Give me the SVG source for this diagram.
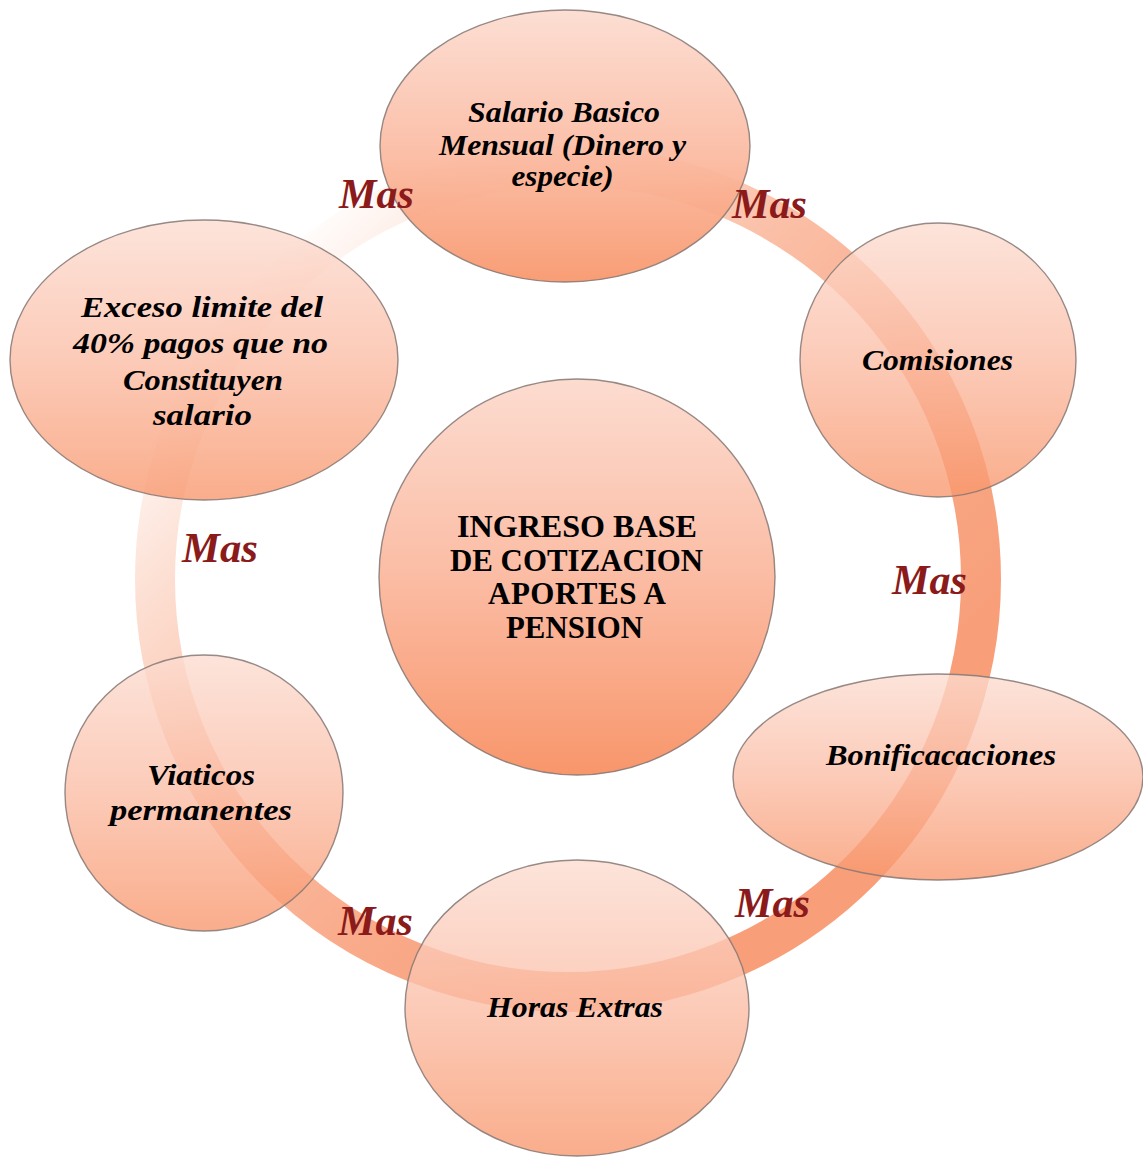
<svg xmlns="http://www.w3.org/2000/svg" width="1143" height="1157" viewBox="0 0 1143 1157">
  <defs>
    <!-- ring fades out towards the upper left -->
    <linearGradient id="ringGrad" gradientUnits="userSpaceOnUse" x1="270" y1="270" x2="800" y2="800">
      <stop offset="0" stop-color="#f89f7a" stop-opacity="0.03"/>
      <stop offset="0.184" stop-color="#f89f7a" stop-opacity="0.32"/>
      <stop offset="0.434" stop-color="#f89f7a" stop-opacity="0.66"/>
      <stop offset="0.717" stop-color="#f89f7a" stop-opacity="0.88"/>
      <stop offset="1" stop-color="#f89f7a" stop-opacity="1"/>
    </linearGradient>
    <linearGradient id="nodeGrad" x1="0" y1="0" x2="0" y2="1">
      <stop offset="0" stop-color="#fcdcd0"/>
      <stop offset="0.5" stop-color="#fbbca4"/>
      <stop offset="1" stop-color="#f8966b"/>
    </linearGradient>
    <style>
      .node { fill: url(#nodeGrad); stroke: #857773; stroke-width: 1.4; stroke-opacity: 0.85; }
      .sat { fill-opacity: 0.78; }
      .label { font-family: "Liberation Serif", "Times New Roman", serif; font-weight: bold; font-style: italic; font-size: 30px; fill: #000; text-anchor: middle; }
      .hub { font-family: "Liberation Serif", "Times New Roman", serif; font-weight: bold; font-size: 31px; fill: #000; text-anchor: middle; }
      .mas { font-family: "Liberation Serif", "Times New Roman", serif; font-weight: bold; font-style: italic; font-size: 43px; fill: #8b1a1a; text-anchor: middle; }
    </style>
  </defs>

  <rect width="1143" height="1157" fill="#ffffff"/>

  <!-- connectors: the circular ring linking all items -->
  <g id="connectors">
    <circle cx="568" cy="579" r="413" fill="none" stroke="url(#ringGrad)" stroke-width="40"/>
  </g>

  <g id="node-center">
    <circle class="node" cx="577" cy="577" r="198"/>
    <text class="hub" x="577" y="537" textLength="240" lengthAdjust="spacingAndGlyphs">INGRESO BASE</text>
    <text class="hub" x="576.5" y="570.5" textLength="253" lengthAdjust="spacingAndGlyphs">DE COTIZACION</text>
    <text class="hub" x="577" y="604" textLength="178" lengthAdjust="spacing">APORTES  A</text>
    <text class="hub" x="574.5" y="637.5" textLength="137" lengthAdjust="spacingAndGlyphs">PENSION</text>
  </g>

  <g id="node-salario">
    <ellipse class="node" cx="565" cy="146" rx="185" ry="136" fill-opacity="0.93"/>
    <text class="label" x="564" y="122" textLength="192" lengthAdjust="spacingAndGlyphs">Salario Basico</text>
    <text class="label" x="562.5" y="155" textLength="247" lengthAdjust="spacingAndGlyphs">Mensual  (Dinero y</text>
    <text class="label" x="562.5" y="186" textLength="102" lengthAdjust="spacingAndGlyphs">especie)</text>
  </g>

  <g id="node-comisiones">
    <ellipse class="node sat" cx="938" cy="360" rx="138" ry="137"/>
    <text class="label" x="937.5" y="370" textLength="151" lengthAdjust="spacingAndGlyphs">Comisiones</text>
  </g>

  <g id="node-bonificaciones">
    <ellipse class="node sat" cx="938" cy="777" rx="205" ry="103"/>
    <text class="label" x="941" y="765" textLength="230" lengthAdjust="spacingAndGlyphs">Bonificacaciones</text>
  </g>

  <g id="node-horas">
    <ellipse class="node sat" cx="577" cy="1008" rx="172" ry="148"/>
    <text class="label" x="575" y="1017" textLength="176" lengthAdjust="spacingAndGlyphs">Horas Extras</text>
  </g>

  <g id="node-viaticos">
    <ellipse class="node sat" cx="204" cy="793" rx="139" ry="138"/>
    <text class="label" x="201" y="785" textLength="108" lengthAdjust="spacingAndGlyphs">Viaticos</text>
    <text class="label" x="201" y="820" textLength="182" lengthAdjust="spacingAndGlyphs">permanentes</text>
  </g>

  <g id="node-exceso">
    <ellipse class="node sat" cx="204" cy="360" rx="194" ry="140"/>
    <text class="label" x="202" y="317" textLength="242" lengthAdjust="spacingAndGlyphs">Exceso limite del</text>
    <text class="label" x="200.5" y="353" textLength="255" lengthAdjust="spacingAndGlyphs">40% pagos que no</text>
    <text class="label" x="203" y="390" textLength="160" lengthAdjust="spacingAndGlyphs">Constituyen</text>
    <text class="label" x="202.5" y="425" textLength="99" lengthAdjust="spacingAndGlyphs">salario</text>
  </g>

  <!-- "Mas" labels along the ring -->
  <g id="ring-labels">
    <text class="mas" x="376.5" y="208" textLength="75" lengthAdjust="spacingAndGlyphs">Mas</text>
    <text class="mas" x="769.5" y="218" textLength="75" lengthAdjust="spacingAndGlyphs">Mas</text>
    <text class="mas" x="929.5" y="594" textLength="75" lengthAdjust="spacingAndGlyphs">Mas</text>
    <text class="mas" x="772.5" y="917" textLength="75" lengthAdjust="spacingAndGlyphs">Mas</text>
    <text class="mas" x="375.5" y="935" textLength="75" lengthAdjust="spacingAndGlyphs">Mas</text>
    <text class="mas" x="220" y="562" textLength="76" lengthAdjust="spacingAndGlyphs">Mas</text>
  </g>
</svg>
